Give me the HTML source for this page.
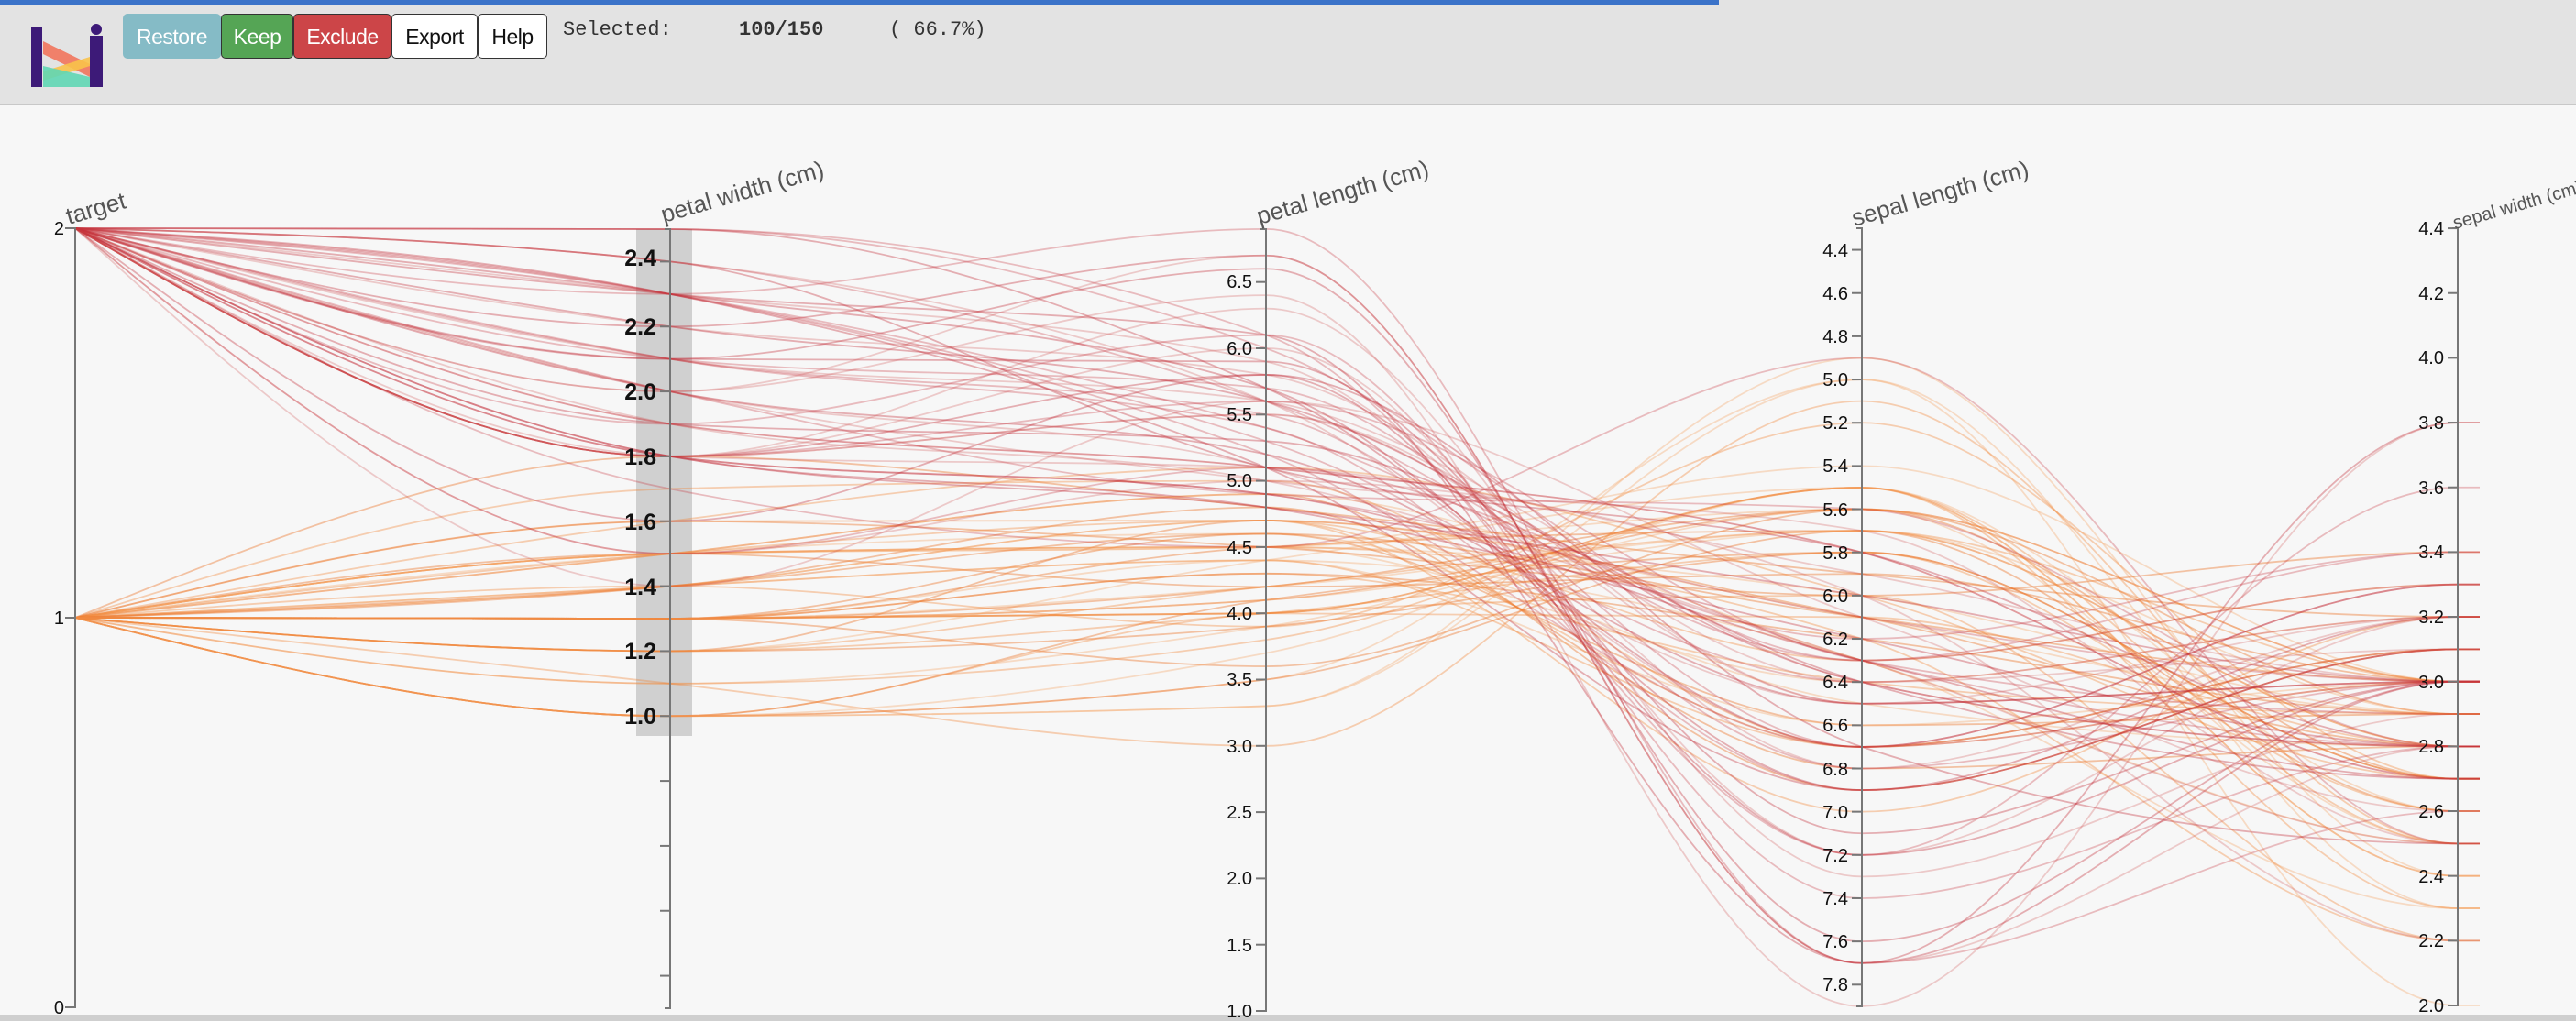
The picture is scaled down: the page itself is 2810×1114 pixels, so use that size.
<!DOCTYPE html>
<html><head><meta charset="utf-8"><style>
html,body{margin:0;padding:0;width:2810px;height:1114px;overflow:hidden;background:#f7f7f7;font-family:"Liberation Sans",sans-serif}
#hdr{position:absolute;left:0;top:0;width:2810px;height:113px;background:#e3e3e3;border-bottom:2px solid #c8c8c8}
#blue{position:absolute;left:0;top:0;width:1875px;height:5px;background:#3b73c9}
.btn{position:absolute;top:15px;height:49px;line-height:49px;font-size:23px;text-align:center;border:1px solid #333;border-radius:5px;box-sizing:border-box;letter-spacing:-0.5px}
#sel{position:absolute;top:20px;font-family:"Liberation Mono",monospace;font-size:22px;color:#333;white-space:pre}
#bot{position:absolute;left:0;top:1107px;width:2810px;height:7px;background:#cfcfcf}
svg{position:absolute;left:0;top:0}
.tl{font-size:20px;fill:#111;text-anchor:end}
.tb{font-size:25px;font-weight:bold;fill:#111;text-anchor:end}
.at{font-size:26px;fill:#555}
</style></head><body>
<div id="hdr"></div><div id="blue"></div>
<svg width="130" height="110" style="left:0;top:0">
<polygon points="47,45 98,70 98,84 47,59" fill="#f0806a"/>
<polygon points="47,78 98,62 98,72 47,88" fill="#f8c24a" opacity="0.9"/>
<polygon points="47,72 98,84 98,95 47,95" fill="#5fd6b4" opacity="0.9"/>
<rect x="34" y="29" width="12" height="66" fill="#3d1a78"/>
<rect x="98" y="39" width="14" height="56" fill="#3d1a78"/>
<circle cx="105" cy="32" r="6" fill="#3d1a78"/>
</svg>
<div class="btn" style="left:134px;width:107px;background:#85bbc6;color:#fff;border-color:#85bbc6">Restore</div>
<div class="btn" style="left:241px;width:79px;background:#55a555;color:#fff">Keep</div>
<div class="btn" style="left:320px;width:107px;background:#cc4548;color:#fff">Exclude</div>
<div class="btn" style="left:427px;width:94px;background:#fff;color:#111">Export</div>
<div class="btn" style="left:521px;width:76px;background:#fff;color:#111">Help</div>
<div id="sel" style="left:614px">Selected:</div>
<div id="sel" style="left:806px;font-weight:bold">100/150</div>
<div id="sel" style="left:970px">( 66.7%)</div>
<div id="bot"></div>
<svg id="ch" width="2810" height="1114">
<rect x="694" y="250" width="61" height="553" fill="#d0d0d0"/>
<g id="lines" fill="none" stroke-width="1.8"></g>
<g id="axes" stroke="#777" stroke-width="2" fill="none"></g>
<g>
<text class="tl" x="70" y="256">2</text><text class="tl" x="70" y="681">1</text><text class="tl" x="70" y="1106">0</text>
<text class="tb" x="716" y="290">2.4</text><text class="tb" x="716" y="365">2.2</text><text class="tb" x="716" y="436">2.0</text><text class="tb" x="716" y="507">1.8</text><text class="tb" x="716" y="578">1.6</text><text class="tb" x="716" y="649">1.4</text><text class="tb" x="716" y="719">1.2</text><text class="tb" x="716" y="790">1.0</text>
<text class="tl" x="1366" y="314">6.5</text><text class="tl" x="1366" y="387">6.0</text><text class="tl" x="1366" y="459">5.5</text><text class="tl" x="1366" y="531">5.0</text><text class="tl" x="1366" y="604">4.5</text><text class="tl" x="1366" y="676">4.0</text><text class="tl" x="1366" y="748">3.5</text><text class="tl" x="1366" y="821">3.0</text><text class="tl" x="1366" y="893">2.5</text><text class="tl" x="1366" y="965">2.0</text><text class="tl" x="1366" y="1038">1.5</text><text class="tl" x="1366" y="1110">1.0</text>
<text class="tl" x="2016" y="280">4.4</text><text class="tl" x="2016" y="327">4.6</text><text class="tl" x="2016" y="374">4.8</text><text class="tl" x="2016" y="421">5.0</text><text class="tl" x="2016" y="468">5.2</text><text class="tl" x="2016" y="515">5.4</text><text class="tl" x="2016" y="563">5.6</text><text class="tl" x="2016" y="610">5.8</text><text class="tl" x="2016" y="657">6.0</text><text class="tl" x="2016" y="704">6.2</text><text class="tl" x="2016" y="751">6.4</text><text class="tl" x="2016" y="798">6.6</text><text class="tl" x="2016" y="846">6.8</text><text class="tl" x="2016" y="893">7.0</text><text class="tl" x="2016" y="940">7.2</text><text class="tl" x="2016" y="987">7.4</text><text class="tl" x="2016" y="1034">7.6</text><text class="tl" x="2016" y="1081">7.8</text>
<text class="tl" x="2666" y="1104">2.0</text><text class="tl" x="2666" y="1033">2.2</text><text class="tl" x="2666" y="963">2.4</text><text class="tl" x="2666" y="892">2.6</text><text class="tl" x="2666" y="821">2.8</text><text class="tl" x="2666" y="751">3.0</text><text class="tl" x="2666" y="680">3.2</text><text class="tl" x="2666" y="609">3.4</text><text class="tl" x="2666" y="539">3.6</text><text class="tl" x="2666" y="468">3.8</text><text class="tl" x="2666" y="397">4.0</text><text class="tl" x="2666" y="327">4.2</text><text class="tl" x="2666" y="256">4.4</text>
<text class="at" transform="translate(75,245) rotate(-16)">target</text>
<text class="at" transform="translate(724,243) rotate(-16)">petal width (cm)</text>
<text class="at" transform="translate(1374,245) rotate(-16)">petal length (cm)</text>
<text class="at" transform="translate(2023,247) rotate(-16)">sepal length (cm)</text>
<text class="at" style="font-size:20px" transform="translate(2678,250) rotate(-16)">sepal width (cm)</text>
</g>
</svg>
<script>
var ve="7.0,3.2,4.7,1.4;6.4,3.2,4.5,1.5;6.9,3.1,4.9,1.5;5.5,2.3,4.0,1.3;6.5,2.8,4.6,1.5;5.7,2.8,4.5,1.3;6.3,3.3,4.7,1.6;4.9,2.4,3.3,1.0;6.6,2.9,4.6,1.3;5.2,2.7,3.9,1.4;5.0,2.0,3.5,1.0;5.9,3.0,4.2,1.5;6.0,2.2,4.0,1.0;6.1,2.9,4.7,1.4;5.6,2.9,3.6,1.3;6.7,3.1,4.4,1.4;5.6,3.0,4.5,1.5;5.8,2.7,4.1,1.0;6.2,2.2,4.5,1.5;5.6,2.5,3.9,1.1;5.9,3.2,4.8,1.8;6.1,2.8,4.0,1.3;6.3,2.5,4.9,1.5;6.1,2.8,4.7,1.2;6.4,2.9,4.3,1.3;6.6,3.0,4.4,1.4;6.8,2.8,4.8,1.4;6.7,3.0,5.0,1.7;6.0,2.9,4.5,1.5;5.7,2.6,3.5,1.0;5.5,2.4,3.8,1.1;5.5,2.4,3.7,1.0;5.8,2.7,3.9,1.2;6.0,2.7,5.1,1.6;5.4,3.0,4.5,1.5;6.0,3.4,4.5,1.6;6.7,3.1,4.7,1.5;6.3,2.3,4.4,1.3;5.6,3.0,4.1,1.3;5.5,2.5,4.0,1.3;5.5,2.6,4.4,1.2;6.1,3.0,4.6,1.4;5.8,2.6,4.0,1.2;5.0,2.3,3.3,1.0;5.6,2.7,4.2,1.3;5.7,3.0,4.2,1.2;5.7,2.9,4.2,1.3;6.2,2.9,4.3,1.3;5.1,2.5,3.0,1.1;5.7,2.8,4.1,1.3";
var vi="6.3,3.3,6.0,2.5;5.8,2.7,5.1,1.9;7.1,3.0,5.9,2.1;6.3,2.9,5.6,1.8;6.5,3.0,5.8,2.2;7.6,3.0,6.6,2.1;4.9,2.5,4.5,1.7;7.3,2.9,6.3,1.8;6.7,2.5,5.8,1.8;7.2,3.6,6.1,2.5;6.5,3.2,5.1,2.0;6.4,2.7,5.3,1.9;6.8,3.0,5.5,2.1;5.7,2.5,5.0,2.0;5.8,2.8,5.1,2.4;6.4,3.2,5.3,2.3;6.5,3.0,5.5,1.8;7.7,3.8,6.7,2.2;7.7,2.6,6.9,2.3;6.0,2.2,5.0,1.5;6.9,3.2,5.7,2.3;5.6,2.8,4.9,2.0;7.7,2.8,6.7,2.0;6.3,2.7,4.9,1.8;6.7,3.3,5.7,2.1;7.2,3.2,6.0,1.8;6.2,2.8,4.8,1.8;6.1,3.0,4.9,1.8;6.4,2.8,5.6,2.1;7.2,3.0,5.8,1.6;7.4,2.8,6.1,1.9;7.9,3.8,6.4,2.0;6.4,2.8,5.6,2.2;6.3,2.8,5.1,1.5;6.1,2.6,5.6,1.4;7.7,3.0,6.1,2.3;6.3,3.4,5.6,2.4;6.4,3.1,5.5,1.8;6.0,3.0,4.8,1.8;6.9,3.1,5.4,2.1;6.7,3.1,5.6,2.4;6.9,3.1,5.1,2.3;5.8,2.7,5.1,1.9;6.8,3.2,5.9,2.3;6.7,3.3,5.7,2.5;6.7,3.0,5.2,2.3;6.3,2.5,5.0,1.9;6.5,3.0,5.2,2.0;6.2,3.4,5.4,2.3;5.9,3.0,5.1,1.8";
var X=[82,731,1381,2031,2681,2705];
function yt(v){return 1099-425*v}
function ypw(v){return 1100-(v-0.1)*354.17}
function ypl(v){return 1103-(v-1)*144.6}
function ysl(v){return 249+(v-4.3)*235.8}
function ysw(v){return 1097-(v-2)*353.3}
function sgn(a){return a<0?-1:1}
function path(ys){
 var n=ys.length,t=[],i;
 for(i=1;i<n-1;i++){var h0=X[i]-X[i-1],h1=X[i+1]-X[i],s0=(ys[i]-ys[i-1])/h0,s1=(ys[i+1]-ys[i])/h1,p=(s0*h1+s1*h0)/(h0+h1);
  t[i]=(sgn(s0)+sgn(s1))*Math.min(Math.abs(s0),Math.abs(s1),0.5*Math.abs(p))||0;}
 t[0]=(3*(ys[1]-ys[0])/(X[1]-X[0])-t[1])/2;
 t[n-1]=(3*(ys[n-1]-ys[n-2])/(X[n-1]-X[n-2])-t[n-2])/2;
 var d="M"+X[0]+","+ys[0];
 for(i=0;i<n-1;i++){var dx=(X[i+1]-X[i])/3;d+="C"+(X[i]+dx)+","+(ys[i]+dx*t[i])+","+(X[i+1]-dx)+","+(ys[i+1]-dx*t[i+1])+","+X[i+1]+","+ys[i+1];}
 return d;}
var g=document.getElementById("lines"),html="";
function add(str,tg,cols){str.split(";").forEach(function(r,k){var a=r.split(",").map(Number);
 var ys=[yt(tg),ypw(a[3]),ypl(a[2]),ysl(a[0]),ysw(a[1])];ys.push(ys[4]);
 var c=cols[k%cols.length];
 html+='<path d="'+path(ys)+'" stroke="'+c+'"/>';});}
add(ve,1,["rgba(240,130,50,0.36)","rgba(245,160,90,0.32)","rgba(236,120,45,0.42)"]);
add(vi,2,["rgba(200,50,60,0.3)","rgba(205,70,70,0.26)","rgba(195,45,55,0.36)"]);
g.innerHTML=html;
var ax="",A=[[82,249,1099],[731,250,1100],[1381,250,1103],[2031,249,1098],[2681,249,1097]];
A.forEach(function(a){ax+='<path d="M'+(a[0]-6)+','+a[1]+'H'+a[0]+'V'+a[2]+'H'+(a[0]-6)+'"/>';});
function tk(x,y){ax+='<path d="M'+(x-11)+','+y+'H'+x+'"/>';}
[0,1,2].forEach(function(v){tk(82,yt(v))});
for(var v=0.2;v<2.45;v+=0.2)tk(731,ypw(v));
for(v=1;v<6.6;v+=0.5)tk(1381,ypl(v));
for(v=4.4;v<7.85;v+=0.2)tk(2031,ysl(v));
for(v=2;v<4.45;v+=0.2)tk(2681,ysw(v));
document.getElementById("axes").innerHTML=ax;
</script>
</body></html>
